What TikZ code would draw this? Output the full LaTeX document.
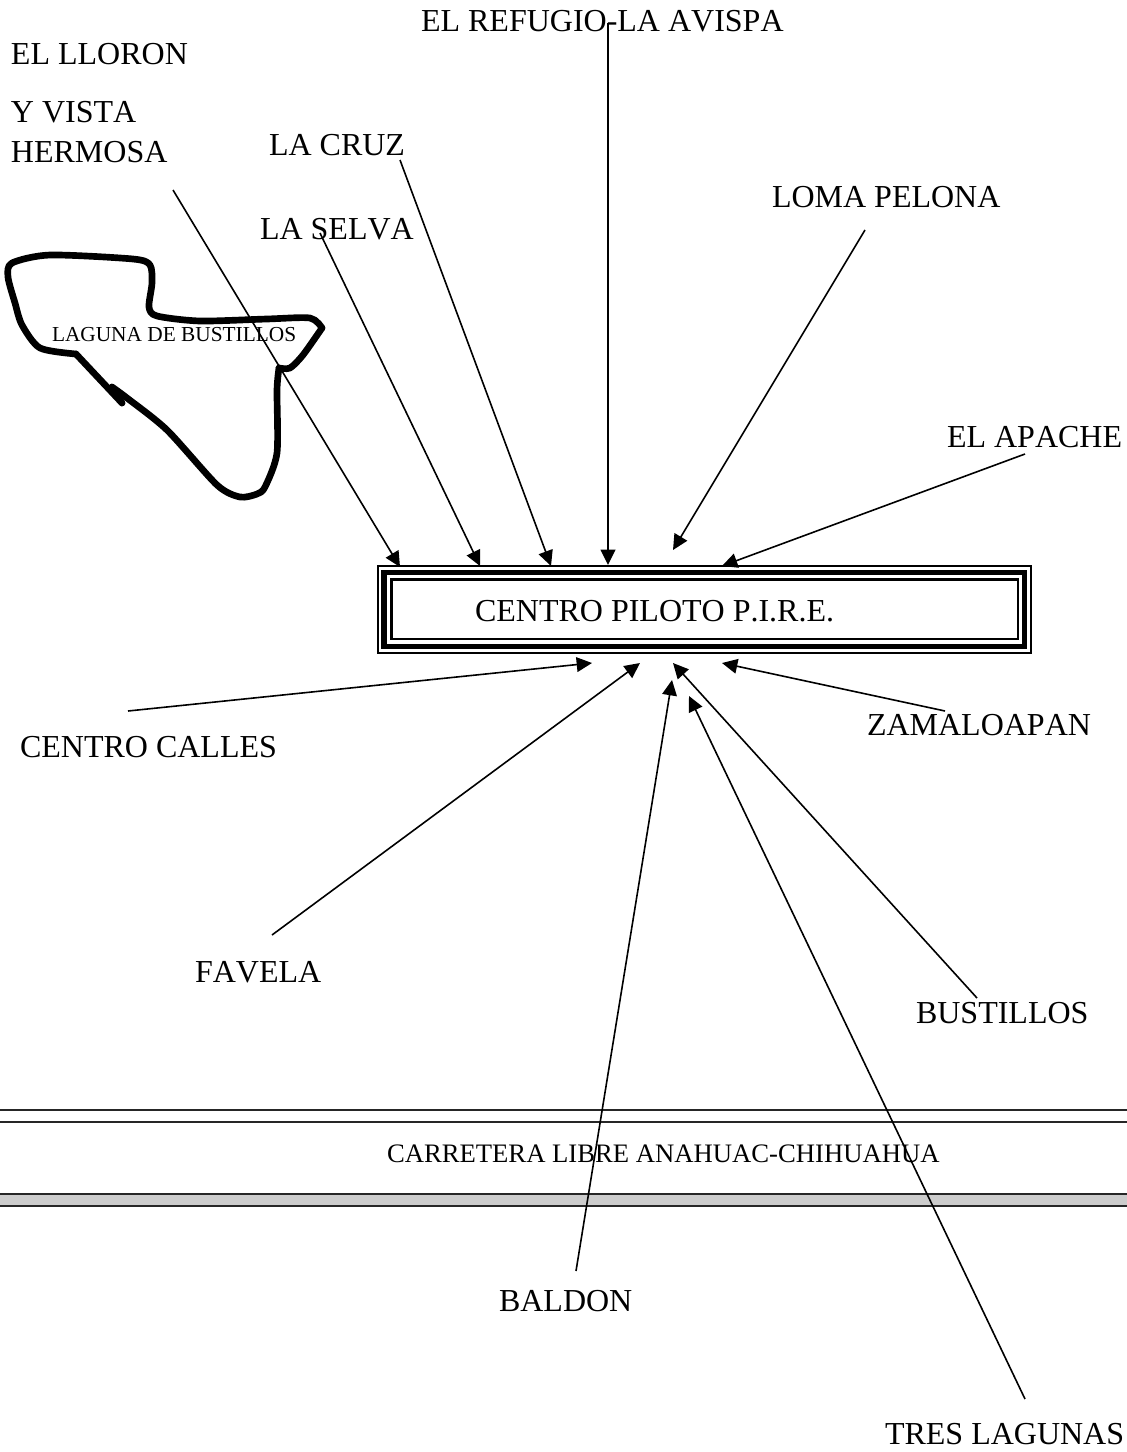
\documentclass[tikz,border=0pt]{standalone}
\usepackage{fontspec}
\setmainfont[Kerning=Off]{Liberation Serif}
\usetikzlibrary{arrows.meta}
\tikzset{
  lbl/.style={anchor=base west,inner sep=0pt,outer sep=0pt,font=\fontsize{24}{24}\selectfont,text=black},
  smalllbl/.style={anchor=base west,inner sep=0pt,outer sep=0pt,font=\fontsize{16}{16}\selectfont,text=black},
  arr/.style={draw=black,line width=1.2pt,-{Triangle[length=11.5pt,width=11pt]}},
  road/.style={draw=black!85,line width=1.4pt},
  lake/.style={draw=black,line width=5pt,line cap=round,line join=round},
}
\begin{document}
\begin{tikzpicture}[x=0.75pt,y=-0.75pt]
\useasboundingbox (0,0) rectangle (1127,1452);
% road
\fill[black!20] (0,1194) rectangle (1127,1206);
\draw[road] (0,1110) -- (1127,1110);
\draw[road] (0,1122) -- (1127,1122);
\draw[road] (0,1194) -- (1127,1194);
\draw[road] (0,1206) -- (1127,1206);
% central box
\draw[black,line width=1.3pt] (377.8,565.8) rectangle (1031.2,653.2);
\draw[black,line width=3.8pt] (384,572.5) rectangle (1024.5,646.5);
\draw[black,line width=1.8pt] (391.5,579.5) rectangle (1018,639);
% lake
\draw[lake] plot[smooth,tension=0.45] coordinates {(76,354) (40,348) (22,325) (15,303) (8,277) (12,263) (50,255) (133,259) (150,265) (152,283) (149,307) (157,316) (200,321) (267,319) (310,318) (322,328)};
\draw[lake] plot[smooth,tension=0.45] coordinates {(322,328) (303,355) (290,368) (279,368)};
\draw[lake] plot[smooth,tension=0.45] coordinates {(279,368) (277,390) (277,453) (265,487) (257,494) (240,497) (217,485) (167,430) (127,398) (112,387)};
\draw[lake] (76,354) -- (122,403);
\draw[lake] (112,387) -- (122,403);
% labels
\node[lbl] (refugio) at (421,32) {EL REFUGIO-LA AVISPA};
\node[lbl] (lloron) at (11,65) {EL LLORON};
\node[lbl] (vista) at (11,123) {Y VISTA};
\node[lbl] (hermosa) at (11,162) {HERMOSA};
\node[lbl] (cruz) at (269,156) {LA CRUZ};
\node[lbl] (selva) at (260,239) {LA SELVA};
\node[lbl] (loma) at (772,207) {LOMA PELONA};
\node[lbl] (apache) at (947,447) {EL APACHE};
\node[lbl] (centro) at (475,621) {CENTRO PILOTO P.I.R.E.};
\node[lbl] (calles) at (20,757) {CENTRO CALLES};
\node[lbl] (zama) at (867,735) {ZAMALOAPAN};
\node[lbl] (favela) at (195,982) {FAVELA};
\node[lbl] (bust) at (916,1023) {BUSTILLOS};
\node[lbl] (baldon) at (499,1311) {BALDON};
\node[lbl] (tres) at (885,1444) {TRES LAGUNAS};
\node[smalllbl] (laguna) at (52,341) {LAGUNA DE BUSTILLOS};
\node[smalllbl,font=\fontsize{20}{20}\selectfont] (carretera) at (387,1162) {CARRETERA LIBRE ANAHUAC-CHIHUAHUA};
% connector ends
\coordinate (sH) at (173,190); \coordinate (eH) at (400,567);
\coordinate (sS) at (320,233); \coordinate (eS) at (480,566);
\coordinate (sC) at (400,160); \coordinate (eC) at (551,566);
\coordinate (sR) at (608,23);  \coordinate (eR) at (608,565);
\coordinate (sL) at (865,230); \coordinate (eL) at (673,550);
\coordinate (sA) at (1025,454);\coordinate (eA) at (722,566);
\coordinate (sK) at (128,711); \coordinate (eK) at (592,663);
\coordinate (sF) at (272,935); \coordinate (eF) at (640,663);
\coordinate (sB) at (576,1271);\coordinate (eB) at (672,680);
\coordinate (sT) at (1025,1399);\coordinate (eT) at (689,696);
\coordinate (sU) at (977,998); \coordinate (eU) at (673,663);
\coordinate (sZ) at (945,711); \coordinate (eZ) at (722,663);
\draw[arr] (sH) -- (eH);
\draw[arr] (sS) -- (eS);
\draw[arr] (sC) -- (eC);
\draw[arr] (sR) -- (eR);
\draw[arr] (sL) -- (eL);
\draw[arr] (sA) -- (eA);
\draw[arr] (sK) -- (eK);
\draw[arr] (sF) -- (eF);
\draw[arr] (sB) -- (eB);
\draw[arr] (sT) -- (eT);
\draw[arr] (sU) -- (eU);
\draw[arr] (sZ) -- (eZ);
\end{tikzpicture}
\end{document}
